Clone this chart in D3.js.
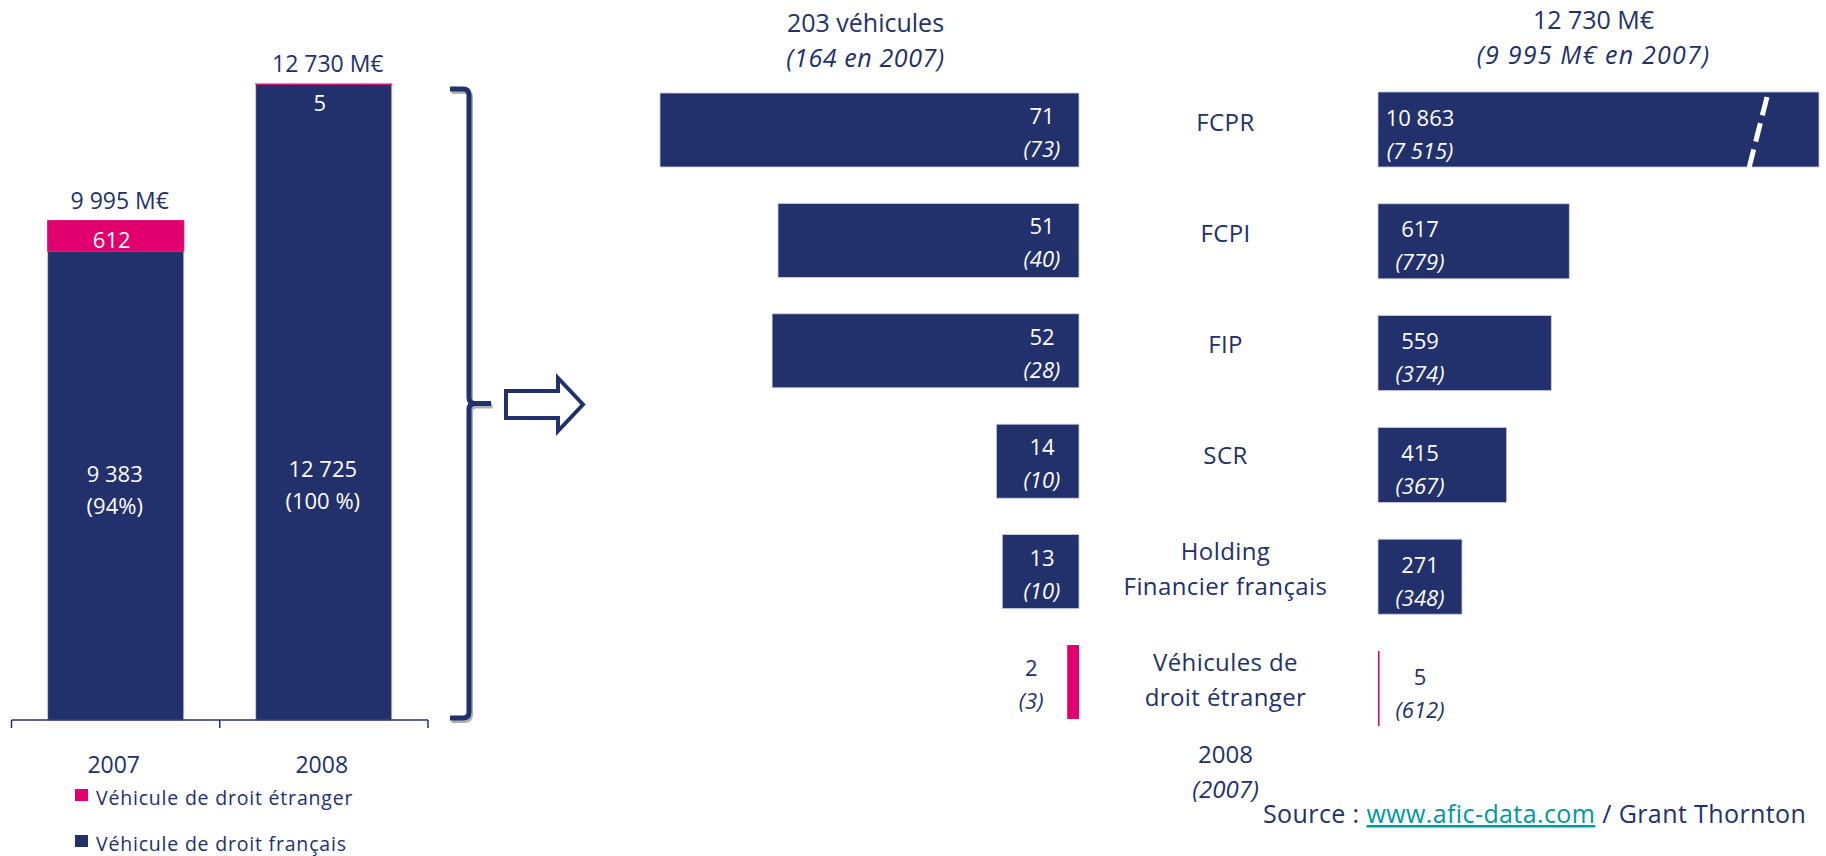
<!DOCTYPE html>
<html>
<head>
<meta charset="utf-8">
<script src="https://cdn.jsdelivr.net/npm/d3@7"></script>
<style>
    body { margin: 0; background: #fff; }
    svg text { font-family: 'Open Sans', sans-serif; }
</style>
</head>
<body>
<div id="chart"></div>
<script>
// left panel : stacked amounts by year (M€)
const years = ["2007", "2008"];
const foreignAmt = [612, 5];
const frenchAmt = [9383, 12725];
const frenchPct = ["(94%)", "(100 %)"];
const legendLabels = ["Véhicule de droit étranger", "Véhicule de droit français"];

// right panel : by vehicle type, 2008 (2007)
const categories = ["FCPR", "FCPI", "FIP", "SCR", "Holding\nFinancier français", "Véhicules de\ndroit étranger"];
const vehicles2008 = [71, 51, 52, 14, 13, 2];
const vehicles2007 = [73, 40, 28, 10, 10, 3];
const amount2008 = [10863, 617, 559, 415, 271, 5];
const amount2007 = [7515, 779, 374, 367, 348, 612];

const navy = "#22306b";
const pink = "#e2006f";

const fr = d3.formatLocale({ decimal: ",", thousands: " ", grouping: [3], currency: ["", " M€"] });
const fmt = fr.format(",d");

var svg = d3.select("#chart")
    .append("svg")
    .attr("width", 1826)
    .attr("height", 856);

// ---------- left stacked bars ----------
var rows = years.map(function (yr, i) {
    return { year: yr, french: frenchAmt[i], foreign: foreignAmt[i] };
});
var totals = rows.map(function (d) { return d.french + d.foreign; });

var x = d3.scaleBand()
    .domain(years)
    .range([11.5, 428])
    .paddingInner(0.346)
    .paddingOuter(0.174);

var y = d3.scaleLinear()
    .domain([0, d3.max(totals)])
    .range([720, 84]);

var series = d3.stack().keys(["french", "foreign"])(rows);

svg.append("g")
    .selectAll("g")
    .data(series)
    .enter()
    .append("g")
    .attr("fill", function (s) { return s.key === "french" ? navy : pink; })
    .attr("stroke", function (s) { return s.key === "french" ? "#c9cde0" : pink; })
    .attr("stroke-width", function (s) { return s.key === "french" ? 0.8 : 1; })
    .selectAll("rect")
    .data(function (s) { return s; })
    .enter()
    .append("rect")
    .attr("x", function (d) { return x(d.data.year); })
    .attr("y", function (d) { return y(d[1]); })
    .attr("width", x.bandwidth())
    .attr("height", function (d) { return y(d[0]) - y(d[1]); });

var lab = svg.append("g").attr("text-anchor", "middle");

// totals above bars
lab.selectAll(".total")
    .data(rows)
    .enter()
    .append("text")
    .attr("x", function (d) { return x(d.year) + x.bandwidth() / 2 + 4; })
    .attr("y", function (d, i) { return y(totals[i]) - 12; })
    .attr("font-size", 23)
    .attr("fill", navy)
    .text(function (d, i) { return fr.format("$,d")(totals[i]); });

// foreign value just under the top
lab.selectAll(".foreign")
    .data(rows)
    .enter()
    .append("text")
    .attr("x", function (d) { return x(d.year) + x.bandwidth() / 2 - 4; })
    .attr("y", function (d, i) { return y(totals[i]) + 27; })
    .attr("font-size", 22)
    .attr("fill", "#fff")
    .text(function (d) { return fmt(d.foreign); });

// french value + share
lab.selectAll(".french")
    .data(rows)
    .enter()
    .append("text")
    .attr("x", function (d) { return x(d.year) + x.bandwidth() / 2 - 1; })
    .attr("y", function (d, i) { return y(0) - 240 + (i === 0 ? 2 : -3); })
    .attr("font-size", 22)
    .attr("fill", "#fff")
    .each(function (d, i) {
        d3.select(this).append("tspan").text(fmt(d.french));
        d3.select(this).append("tspan")
            .attr("x", x(d.year) + x.bandwidth() / 2 - 1)
            .attr("dy", 32)
            .text(frenchPct[i]);
    });

// axis line with ticks on band boundaries
var bounds = [x.range()[0], (x(years[0]) + x.bandwidth() + x(years[1])) / 2, x.range()[1]];
svg.append("line")
    .attr("x1", bounds[0]).attr("x2", bounds[2])
    .attr("y1", y(0)).attr("y2", y(0))
    .attr("stroke", navy).attr("stroke-width", 1.5);
svg.selectAll(".tick")
    .data(bounds)
    .enter()
    .append("line")
    .attr("x1", function (d) { return d; }).attr("x2", function (d) { return d; })
    .attr("y1", y(0)).attr("y2", y(0) + 8)
    .attr("stroke", navy).attr("stroke-width", 1.5);

lab.selectAll(".year")
    .data(years)
    .enter()
    .append("text")
    .attr("x", function (d) { return x(d) + x.bandwidth() / 2 - 2; })
    .attr("y", 773)
    .attr("font-size", 23)
    .attr("fill", navy)
    .text(function (d) { return d; });

// legend
var leg = svg.append("g")
    .selectAll("g")
    .data(legendLabels)
    .enter()
    .append("g")
    .attr("transform", function (d, i) { return "translate(75," + (789 + i * 46) + ")"; });
leg.append("rect")
    .attr("width", 13).attr("height", 12)
    .attr("fill", function (d, i) { return i === 0 ? pink : navy; });
leg.append("text")
    .attr("x", 21).attr("y", 16)
    .attr("font-size", 19.5)
    .attr("letter-spacing", 0.8)
    .attr("fill", navy)
    .text(function (d) { return d; });

// bracket and arrow
var bTop = y(d3.max(totals)) + 5, bBot = y(0) - 2, bMid = (bTop + bBot) / 2;
var brace = "M450," + bTop + " H463 Q469," + bTop + " 469," + (bTop + 6) +
    " V" + (bMid - 6) + " Q469," + bMid + " 475," + bMid + " H491" +
    " M475," + bMid + " Q469," + bMid + " 469," + (bMid + 6) +
    " V" + (bBot - 6) + " Q469," + bBot + " 463," + bBot + " H450";
svg.append("path").attr("d", brace).attr("transform", "translate(1.5,2.5)")
    .attr("fill", "none").attr("stroke", "#b0b0b0").attr("stroke-width", 5);
svg.append("path").attr("d", brace)
    .attr("fill", "none").attr("stroke", navy).attr("stroke-width", 5);

svg.append("path")
    .attr("d", "M506,391 H558 V378 L583,404.5 L558,431 V418 H506 Z")
    .attr("fill", "#fff").attr("stroke", navy).attr("stroke-width", 4);

// ---------- right panel ----------
var yL = d3.scaleBand().domain(categories).range([74.8, 737.2]).paddingInner(0.33).paddingOuter(0.165);
var yR = d3.scaleBand().domain(categories).range([73.6, 744.4]).paddingInner(0.329).paddingOuter(0.1645);

var xV = d3.scaleLinear().domain([0, d3.max(vehicles2008)]).range([1079, 660]);
var xA = d3.scaleLinear().domain([0, 1000]).range([1378, 1688]);
var xBreak = 1819;

var rp = categories.map(function (c, i) {
    return { cat: c, v8: vehicles2008[i], v7: vehicles2007[i], a8: amount2008[i], a7: amount2007[i], foreign: i === categories.length - 1 };
});

// headers
var midV = (xV.range()[0] + xV.range()[1]) / 2 - 4;
var midA = (xA(0) + xBreak) / 2 - 5;
var hdr = svg.append("g").attr("text-anchor", "middle").attr("fill", navy).attr("font-size", 25);
hdr.append("text").attr("x", midV).attr("y", 32).text(d3.sum(vehicles2008) + " véhicules");
hdr.append("text").attr("x", midV).attr("y", 67).attr("font-style", "italic").attr("letter-spacing", 0.6)
    .text("(" + d3.sum(vehicles2007) + " en 2007)");
hdr.append("text").attr("x", midA).attr("y", 29).text(fr.format("$,d")(d3.sum(amount2008)));
hdr.append("text").attr("x", midA).attr("y", 64).attr("font-style", "italic").attr("letter-spacing", 1.2)
    .text("(" + fr.format("$,d")(d3.sum(amount2007)) + " en 2007)");

// vehicle count bars (growing left)
svg.append("g")
    .selectAll("rect")
    .data(rp)
    .enter()
    .append("rect")
    .attr("x", function (d) { return xV(d.v8); })
    .attr("y", function (d) { return yL(d.cat); })
    .attr("width", function (d) { return xV(0) - xV(d.v8); })
    .attr("height", yL.bandwidth())
    .attr("fill", function (d) { return d.foreign ? pink : navy; })
    .attr("stroke", function (d) { return d.foreign ? "none" : "#c9cde0"; })
    .attr("stroke-width", 0.8);

// amount bars (growing right, FCPR broken)
svg.append("g")
    .selectAll("rect")
    .data(rp)
    .enter()
    .append("rect")
    .attr("x", xA(0))
    .attr("y", function (d) { return yR(d.cat); })
    .attr("width", function (d) { return Math.min(xA(d.a8), xBreak) - xA(0); })
    .attr("height", yR.bandwidth())
    .attr("fill", function (d) { return d.foreign ? pink : navy; })
    .attr("stroke", function (d) { return d.foreign ? "none" : "#c9cde0"; })
    .attr("stroke-width", 0.8);

rp.filter(function (d) { return xA(d.a8) > xBreak; }).forEach(function (d) {
    svg.append("line")
        .attr("x1", xBreak - 52).attr("y1", yR(d.cat) + 5)
        .attr("x2", xBreak - 70).attr("y2", yR(d.cat) + yR.bandwidth() + 1)
        .attr("stroke", "#fff").attr("stroke-width", 5)
        .attr("stroke-dasharray", "19 8");
});

// value labels
function twoLines(sel, xpos, ypos, first, second) {
    sel.each(function (d) {
        var t = d3.select(this);
        t.append("tspan").attr("x", xpos(d)).attr("y", ypos(d)).text(first(d));
        t.append("tspan").attr("x", xpos(d)).attr("y", ypos(d) + 33)
            .attr("font-style", "italic").text(second(d));
    });
}

var vl = svg.append("g").attr("text-anchor", "middle").attr("font-size", 22)
    .selectAll("text").data(rp).enter().append("text")
    .attr("fill", function (d) { return d.foreign ? navy : "#fff"; });
twoLines(vl,
    function (d) { return d.foreign ? xV(d.v8) - 36 : xV(0) - 37; },
    function (d) { return yL(d.cat) + yL.bandwidth() / 2 - 6; },
    function (d) { return fmt(d.v8); },
    function (d) { return "(" + fmt(d.v7) + ")"; });

var al = svg.append("g").attr("text-anchor", "middle").attr("font-size", 22)
    .selectAll("text").data(rp).enter().append("text")
    .attr("fill", function (d) { return d.foreign ? navy : "#fff"; });
twoLines(al,
    function (d) { return xA(0) + 42; },
    function (d) { return yR(d.cat) + yR.bandwidth() / 2 - 4; },
    function (d) { return fmt(d.a8); },
    function (d) { return "(" + fmt(d.a7) + ")"; });

// category names in the middle
var midC = (xV(0) + xA(0)) / 2 - 3;
svg.append("g").attr("text-anchor", "middle").attr("font-size", 24).attr("fill", navy)
    .selectAll("text").data(rp).enter().append("text")
    .attr("letter-spacing", 0.4)
    .each(function (d) {
        var parts = d.cat.split("\n");
        var cy = (yL(d.cat) + yL.bandwidth() / 2 + yR(d.cat) + yR.bandwidth() / 2) / 2;
        var t = d3.select(this);
        if (parts.length === 1) {
            t.append("tspan").attr("x", midC).attr("y", cy + 1).text(parts[0]);
        } else {
            parts.forEach(function (p, k) {
                t.append("tspan").attr("x", midC).attr("y", cy - 14 + k * 35).text(p);
            });
        }
    });

var lastCat = categories[categories.length - 1];
var yearY = yR(lastCat) + yR.bandwidth() + 37;
svg.append("text").attr("x", midC).attr("y", yearY)
    .attr("text-anchor", "middle").attr("font-size", 24).attr("fill", navy).text("2008");
svg.append("text").attr("x", midC).attr("y", yearY + 35)
    .attr("text-anchor", "middle").attr("font-size", 24).attr("fill", navy)
    .attr("font-style", "italic").text("(2007)");

// source
var src = svg.append("text").attr("x", 1263).attr("y", 823)
    .attr("font-size", 25).attr("letter-spacing", 0.4).attr("fill", navy);
src.append("tspan").text("Source : ");
src.append("tspan").attr("fill", "#00999a").style("text-decoration", "underline").text("www.afic-data.com");
src.append("tspan").text(" / Grant Thornton");
</script>
</body>
</html>
